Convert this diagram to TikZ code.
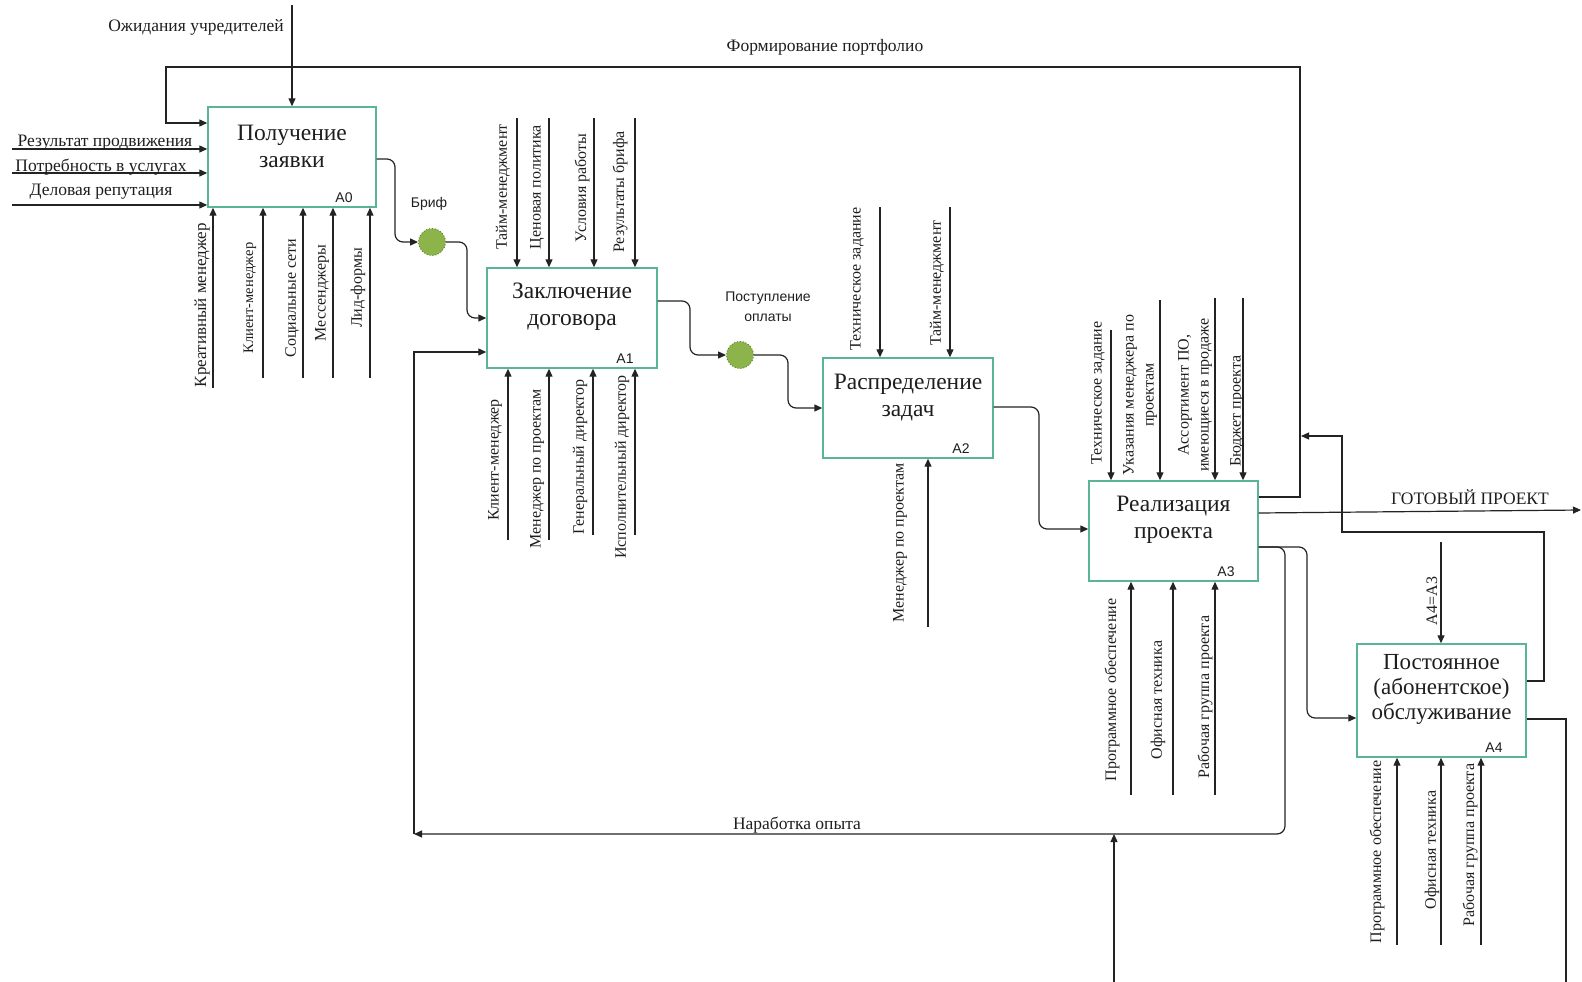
\documentclass[tikz,border=0pt]{standalone}
\usepackage{fontspec}
\setmainfont{Liberation Serif}
\newfontfamily\sansf{Liberation Sans}
\usetikzlibrary{arrows.meta}
\definecolor{boxc}{RGB}{90,180,150}
\definecolor{circf}{RGB}{140,180,75}
\definecolor{circd}{RGB}{90,125,45}
\definecolor{linec}{RGB}{35,35,35}
\definecolor{txtc}{RGB}{30,30,30}
\begin{document}
\begin{tikzpicture}[x=1pt,y=-1pt,
  box/.style={draw=boxc, line width=1.4pt, fill=white, inner sep=0pt, rectangle},
  title/.style={font=\fontsize{23.5}{27}\selectfont, align=center, inner sep=0pt, text=txtc},
  idl/.style={font=\sansf\fontsize{14}{16}\selectfont, inner sep=0pt, text=txtc},
  hl/.style={font=\fontsize{17.5}{20}\selectfont, inner sep=0pt, text=txtc},
  vl/.style={font=\fontsize{16}{20}\selectfont, inner sep=0pt, rotate=90, align=center, text=txtc},
  arr/.style={draw=linec, line width=1.2pt, -{Triangle[length=8pt,width=7pt]}},
  ln/.style={draw=linec, line width=1.2pt},
  rc/.style={rounded corners=8pt},
  junc/.style={circle, fill=circf, draw=circd, dotted, line width=0.9pt, minimum size=27pt, inner sep=0pt},
]
\useasboundingbox (0,0) rectangle (1582,982);

% ---------- boxes ----------
\node[box, minimum width=168pt, minimum height=100pt] (A0) at (292,157) {};
\node[box, minimum width=170pt, minimum height=100pt] (A1) at (572,318) {};
\node[box, minimum width=170pt, minimum height=100pt] (A2) at (908,408) {};
\node[box, minimum width=169pt, minimum height=100pt] (A3) at (1173.5,531) {};
\node[box, minimum width=169pt, minimum height=113pt] (A4) at (1441.5,700.5) {};

\node[title] (T0) at (292,146) {Получение\\заявки};
\node[title] (T1) at (572,307) {Заключение\\договора};
\node[title] (T2) at (908,398) {Распределение\\задач};
\node[title] (T3) at (1173.5,520) {Реализация\\проекта};
\node[title, font=\fontsize{23}{25}\selectfont] (T4) at (1441.5,689) {Постоянное\\(абонентское)\\обслуживание};

\node[idl] (I0) at (344,198) {A0};
\node[idl] (I1) at (625,359) {A1};
\node[idl] (I2) at (961,449) {A2};
\node[idl] (I3) at (1226,572) {A3};
\node[idl] (I4) at (1494,748) {A4};

% ---------- junctions ----------
\node[junc] (J1) at (432,242) {};
\node[junc] (J2) at (740,355) {};
\node[idl] (LJ1) at (429,204) {Бриф};
\node[idl, align=center, font=\sansf\fontsize{14}{20}\selectfont] (LJ2) at (768,307) {Поступление\\оплаты};

% ---------- A0 ----------
\coordinate (c0) at (292,5);
\draw[arr] (c0) -- (A0.north);
\node[hl] (Lc0) at (196,27) {Ожидания учредителей};

\coordinate (i1) at (12,149);
\coordinate (i2) at (12,173);
\coordinate (i3) at (12,205);
\draw[arr] (i1) -- (i1 -| A0.west);
\draw[arr] (i2) -- (i2 -| A0.west);
\draw[arr] (i3) -- (i3 -| A0.west);
\node[hl] (Li1) at (105,143) {Результат продвижения};
\node[hl] (Li2) at (101,167) {Потребность в услугах};
\node[hl] (Li3) at (101,192) {Деловая репутация};

\coordinate (m01) at (213,388);
\coordinate (m02) at (263,378);
\coordinate (m03) at (303,378);
\coordinate (m04) at (333,378);
\coordinate (m05) at (370,378);
\foreach \m in {m01,m02,m03,m04,m05} \draw[arr] (\m) -- (\m |- A0.south);
\node[vl, font=\fontsize{17}{20}\selectfont] (Lm01) at (202,305) {Креативный менеджер};
\node[vl, font=\fontsize{14.5}{20}\selectfont] (Lm02) at (250,298) {Клиент-менеджер};
\node[vl] (Lm03) at (292,298) {Социальные сети};
\node[vl] (Lm04) at (322,293) {Мессенджеры};
\node[vl] (Lm05) at (358,288) {Лид-формы};

% A0 -> Бриф -> A1
\draw[arr, rc] (A0.east |- 0,159) -- (395,159) |- (J1.west);
\draw[arr, rc] (J1.east) -- (467,242) |- (A1.west |- 0,318);

% ---------- A1 ----------
\coordinate (c11) at (517,118);
\coordinate (c12) at (549,118);
\coordinate (c13) at (594,118);
\coordinate (c14) at (635,118);
\foreach \c in {c11,c12,c13,c14} \draw[arr] (\c) -- (\c |- A1.north);
\node[vl] (Lc11) at (503,187) {Тайм-менеджмент};
\node[vl] (Lc12) at (537,187) {Ценовая политика};
\node[vl] (Lc13) at (582,188) {Условия работы};
\node[vl] (Lc14) at (620,192) {Результаты брифа};

\coordinate (m11) at (508,540);
\coordinate (m12) at (549,540);
\coordinate (m13) at (593,535);
\coordinate (m14) at (635,535);
\foreach \m in {m11,m12,m13,m14} \draw[arr] (\m) -- (\m |- A1.south);
\node[vl] (Lm11) at (495,460) {Клиент-менеджер};
\node[vl] (Lm12) at (537,469) {Менеджер по проектам};
\node[vl] (Lm13) at (580,457) {Генеральный директор};
\node[vl] (Lm14) at (622,467) {Исполнительный директор};

% A1 -> оплата -> A2
\draw[arr, rc] (A1.east |- 0,301) -- (690,301) |- (J2.west);
\draw[arr, rc] (J2.east) -- (788,355) |- (A2.west |- 0,408);

% ---------- A2 ----------
\coordinate (c21) at (880,207);
\coordinate (c22) at (950,207);
\foreach \c in {c21,c22} \draw[arr] (\c) -- (\c |- A2.north);
\node[vl] (Lc21) at (857,279) {Техническое задание};
\node[vl] (Lc22) at (937,283) {Тайм-менеджмент};
\coordinate (m21) at (928,627);
\draw[arr] (m21) -- (m21 |- A2.south);
\node[vl] (Lm21) at (900,543) {Менеджер по проектам};

\draw[arr, rc] (A2.east |- 0,407) -- (1039,407) |- (A3.west |- 0,529);

% ---------- A3 ----------
\coordinate (c31) at (1111,330);
\coordinate (c32) at (1160,300);
\coordinate (c33) at (1215,298);
\coordinate (c34) at (1243,298);
\foreach \c in {c31,c32,c33,c34} \draw[arr] (\c) -- (\c |- A3.north);
\node[vl] (Lc31) at (1098,393) {Техническое задание};
\node[vl] (Lc32) at (1140,395) {Указания менеджера по\\проектам};
\node[vl] (Lc33) at (1195,395) {Ассортимент ПО,\\имеющиеся в продаже};
\node[vl] (Lc34) at (1237,411) {Бюджет проекта};

\coordinate (m31) at (1131,795);
\coordinate (m32) at (1173,795);
\coordinate (m33) at (1215,795);
\foreach \m in {m31,m32,m33} \draw[arr] (\m) -- (\m |- A3.south);
\node[vl] (Lm31) at (1112,690) {Программное обеспечение};
\node[vl] (Lm32) at (1158,700) {Офисная техника};
\node[vl] (Lm33) at (1205,697) {Рабочая группа проекта};

% A3 outputs
\coordinate (fp1) at (1300,67);
\coordinate (fp2) at (166,67);
\draw[arr] (A3.east |- 0,497) -| (fp1) -- (fp2) |- (A0.west |- 0,123);
\node[hl] (Lfp) at (825,47) {Формирование портфолио};

\coordinate (out1) at (1581,510);
\draw[arr] (A3.east |- 0,513) -- (out1);
\node[hl] (Lout1) at (1470,497) {ГОТОВЫЙ ПРОЕКТ};

\coordinate (nar) at (414,834);
\draw[arr, rc] (A3.east |- 0,547) -- (1285,547) -- (1285,834) -- (nar);
\node[hl] (Lnar) at (797,825) {Наработка опыта};
\draw[arr] (nar) |- (A1.west |- 0,352);

\coordinate (b1) at (1114,982);
\draw[arr] (b1) -- (b1 |- nar);

\draw[arr, rc] (A3.east |- 0,547) -- (1307,547) |- (A4.west |- 0,718);

% ---------- A4 ----------
\coordinate (c41) at (1441,542);
\draw[arr] (c41) -- (c41 |- A4.north);
\node[vl] (Lc41) at (1432,601) {A4=A3};

\coordinate (m41) at (1397,945);
\coordinate (m42) at (1441,945);
\coordinate (m43) at (1481,945);
\foreach \m in {m41,m42,m43} \draw[arr] (\m) -- (\m |- A4.south);
\node[vl] (Lm41) at (1377,852) {Программное обеспечение};
\node[vl] (Lm42) at (1432,850) {Офисная техника};
\node[vl] (Lm43) at (1470,845) {Рабочая группа проекта};

\coordinate (fb) at (1301,436);
\draw[arr] (A4.east |- 0,681) -- (1544,681) -- (1544,532) -- (1342,532) -- (1342,436) -- (fb);
\coordinate (out2) at (1566,982);
\draw[ln] (A4.east |- 0,719) -| (out2);
\end{tikzpicture}
\end{document}
